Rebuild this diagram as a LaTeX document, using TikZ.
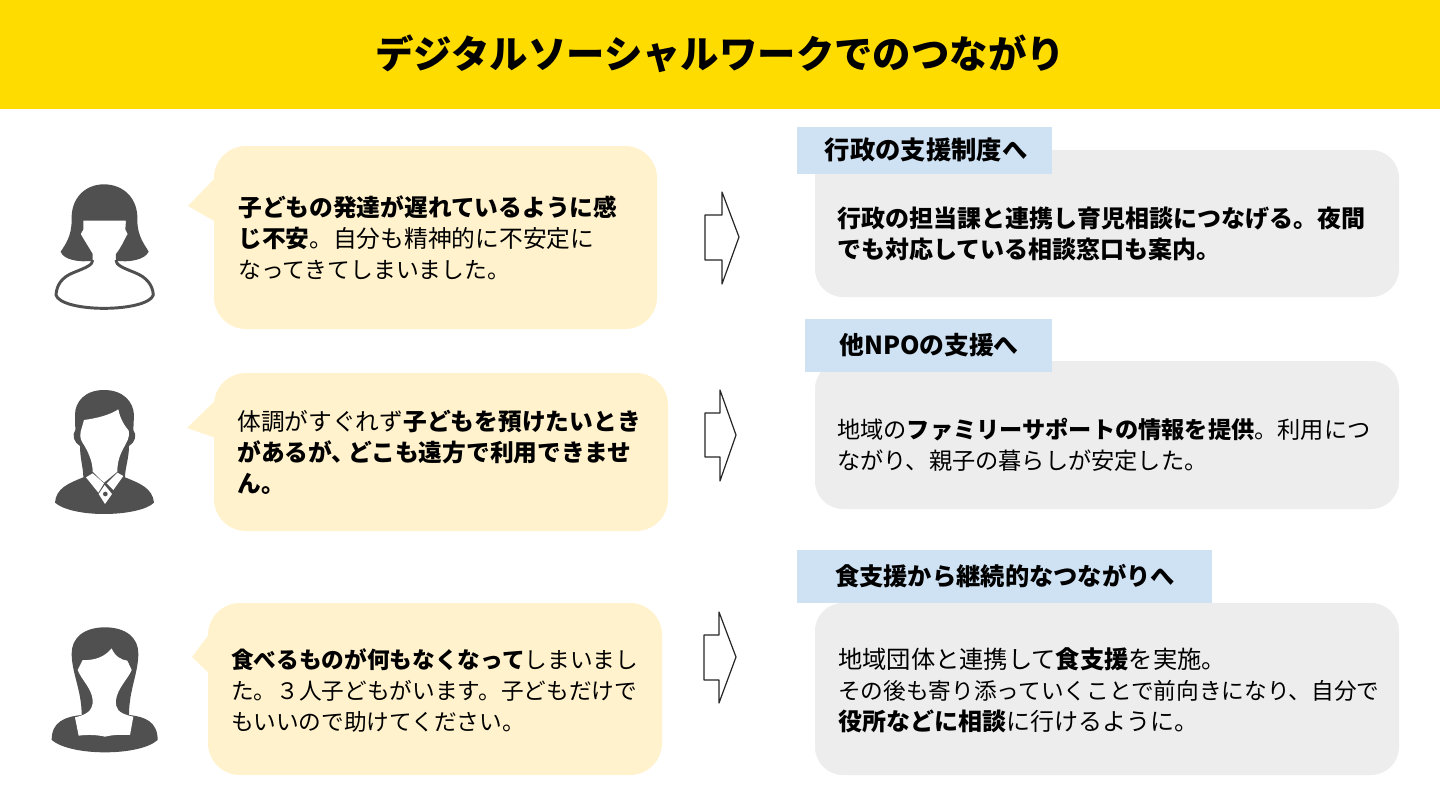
\documentclass[tikz,border=0pt]{standalone}
\usepackage{fontspec}
\setmainfont{Noto Sans CJK JP}
\newcommand{\bd}[1]{\textbf{#1}}
\newcommand{\bodysize}[1]{\fontsize{#1}{23.25}\selectfont\lineskiplimit=-100pt\relax}
\newcommand{\lsz}[2]{{\bodysize{#1}#2}}
\definecolor{titleyellow}{HTML}{FFDC00}
\definecolor{bubble}{HTML}{FFF2CC}
\definecolor{panel}{HTML}{EDEDED}
\definecolor{tagblue}{HTML}{CFE2F3}
\definecolor{person}{HTML}{505050}
\tikzset{
  bubbletext/.style={anchor=west,align=left,inner sep=0pt,text=black,font=\bodysize{17.8}},
  tagtext/.style={anchor=center,inner sep=0pt,text=black,font=\fontsize{19}{22}\selectfont\bfseries},
  panelbox/.style={fill=panel,rounded corners=21pt},
  tagbox/.style={fill=tagblue},
  bubblebox/.style={fill=bubble,rounded corners=24pt},
  blockarrow/.style={draw=black!85,line width=0.9pt,fill=white,line join=round},
  personfill/.style={fill=person},
  personwhite/.style={fill=white},
}
\begin{document}
\begin{tikzpicture}[x=0.75pt,y=-0.75pt]
\useasboundingbox (0,0) rectangle (1440,810);
\fill[white] (0,0) rectangle (1440,810);
\fill[titleyellow] (0,0) rectangle (1440,109);
\node[anchor=center,inner sep=0pt,font=\fontsize{28.8}{34}\selectfont\bfseries] (title) at (720,54) {デジタルソーシャルワークでのつながり};

% speech bubbles
\fill[bubble] (216,177) -- (188,206) -- (216,222) -- cycle;
\fill[bubblebox] (214,146) rectangle (657,329);
\fill[bubble] (216,400) -- (187,428) -- (216,438) -- cycle;
\fill[bubblebox] (214,373) rectangle (668,531);
\fill[bubble] (210,633) -- (192,657) -- (210,674) -- cycle;
\fill[bubblebox] (208,603) rectangle (662,775);

\node[bubbletext] (b1) at (238,238) {\bd{子どもの発達が遅れているように感}\\\bd{じ不安}。自分も精神的に不安定に\\\lsz{17.1}{なってきてしまいました。}};
\node[bubbletext] (b2) at (237,452) {体調がすぐれず\bd{子どもを預けたいとき}\\\bd{があるが、\kern-0.3em どこも遠方で利用できませ}\\\bd{ん。}};
\node[bubbletext,font=\bodysize{17}] (b3) at (231,690) {\bd{食べるものが何もなくなって}しまいまし\\た。３人子どもがいます。子どもだけで\\もいいので助けてください。};

% arrows
\draw[blockarrow] (705,215) -- (722,215) -- (722,192) -- (739,237) -- (722,284) -- (722,260) -- (705,260) -- cycle;
\draw[blockarrow] (705,413) -- (720,413) -- (720,390) -- (736,435) -- (720,481) -- (720,457) -- (705,457) -- cycle;
\draw[blockarrow] (704,635) -- (719,635) -- (719,612) -- (736,657) -- (719,703) -- (719,680) -- (704,680) -- cycle;

% right panels
\fill[panelbox] (815,150) rectangle (1399,297);
\fill[panelbox] (815,361) rectangle (1399,509);
\fill[panelbox] (815,603) rectangle (1399,775);
\fill[tagbox] (797,127) rectangle (1052,174);
\fill[tagbox] (805,319) rectangle (1052,372);
\fill[tagbox] (797,550) rectangle (1212,603);
\node[tagtext] (t1) at (926,150) {行政の支援制度へ};
\node[tagtext,font=\fontsize{18.6}{22}\selectfont\bfseries] (t2) at (929,345) {他NPOの支援へ};
\node[tagtext,font=\fontsize{18.2}{22}\selectfont\bfseries] (t3) at (1005,576) {食支援から継続的なつながりへ};

\node[bubbletext,font=\bodysize{18}] (r1) at (837,234) {\bd{行政の担当課と連携し育児相談につなげる。夜間}\\\bd{でも対応している相談窓口も案内。}};
\node[bubbletext,font=\bodysize{17.4}] (r2) at (837,445) {地域の\bd{ファミリーサポートの情報を提供}。利用につ\\ながり、親子の暮らしが安定した。};
\node[bubbletext,font=\bodysize{18}] (r3) at (838,690) {\lsz{18.2}{地域団体と連携して\bd{食支援}を実施。}\\\lsz{17}{その後も寄り添っていくことで前向きになり、自分で}\\\bd{役所などに相談}に行けるように。};

% person 1
\begin{scope}[shift={(30,130)},scale=1/3]
\draw[person,line width=2.2pt,fill=white,line join=round] (188,390) .. controls (188,405) and (170,412) .. (130,428) .. controls (95,442) and (80,465) .. (78,495) .. controls (85,520) and (150,535) .. (222,535) .. controls (295,535) and (362,520) .. (370,495) .. controls (368,465) and (350,442) .. (315,428) .. controls (275,412) and (258,405) .. (258,390);
\fill[personfill] (125,270) .. controls (122,205) and (165,163) .. (222,163) .. controls (280,163) and (325,205) .. (322,270) .. controls (322,320) and (345,345) .. (356,365) .. controls (345,390) and (295,398) .. (258,392) -- (258,372) .. controls (275,350) and (280,335) .. (293,312) -- (286,298) -- (288,272) -- (160,272) -- (160,298) -- (152,312) .. controls (165,335) and (175,350) .. (188,372) -- (188,392) .. controls (150,398) and (100,390) .. (92,365) .. controls (105,345) and (125,320) .. (125,270) -- cycle;
\end{scope}

% person 2
\begin{scope}[shift={(30,370)},scale=1/3]
\fill[personfill] (222,60) .. controls (165,60) and (135,95) .. (135,135) -- (136,180) .. controls (125,195) and (132,218) .. (150,228) .. controls (150,265) and (160,295) .. (160,322) .. controls (115,340) and (78,355) .. (75,398) .. controls (100,420) and (160,432) .. (222,432) .. controls (285,432) and (350,420) .. (372,398) .. controls (368,355) and (330,340) .. (285,322) .. controls (285,295) and (297,265) .. (297,228) .. controls (315,218) and (322,195) .. (310,180) -- (312,135) .. controls (310,95) and (280,60) .. (222,60) -- cycle;
\fill[personwhite] (162,150) .. controls (200,145) and (240,135) .. (265,118) .. controls (270,145) and (282,165) .. (296,182) .. controls (300,205) and (290,215) .. (284,228) .. controls (272,250) and (262,270) .. (262,305) -- (222,338) -- (188,305) .. controls (188,275) and (176,250) .. (164,228) .. controls (155,215) and (148,205) .. (152,185) -- cycle;
\fill[personwhite] (168,322) -- (188,310) -- (222,340) -- (205,368) -- cycle;
\fill[personwhite] (280,318) -- (262,308) -- (230,340) -- (250,360) -- cycle;
\fill[personwhite] (224,345) -- (206,372) -- (225,402) -- (246,372) -- cycle;
\fill[personfill] (226,372) circle (7);
\end{scope}

% person 3
\begin{scope}[shift={(30,600)},scale=1/3]
\fill[personfill] (225,82) .. controls (160,82) and (125,115) .. (125,160) .. controls (125,220) and (155,270) .. (155,345) .. controls (105,350) and (65,365) .. (65,420) .. controls (95,445) and (160,457) .. (225,457) .. controls (290,457) and (355,445) .. (383,420) .. controls (383,365) and (345,350) .. (297,345) .. controls (297,270) and (325,220) .. (325,160) .. controls (325,115) and (290,82) .. (225,82) -- cycle;
\fill[personwhite] (158,180) .. controls (195,182) and (225,170) .. (245,145) .. controls (255,170) and (275,180) .. (292,182) -- (305,210) .. controls (295,235) and (262,265) .. (258,300) .. controls (256,325) and (262,340) .. (310,350) -- (300,405) .. controls (270,403) and (245,405) .. (225,410) .. controls (205,405) and (175,403) .. (146,407) -- (135,352) .. controls (165,345) and (190,335) .. (188,300) .. controls (185,265) and (155,240) .. (143,210) -- cycle;
\end{scope}
\end{tikzpicture}
\end{document}
